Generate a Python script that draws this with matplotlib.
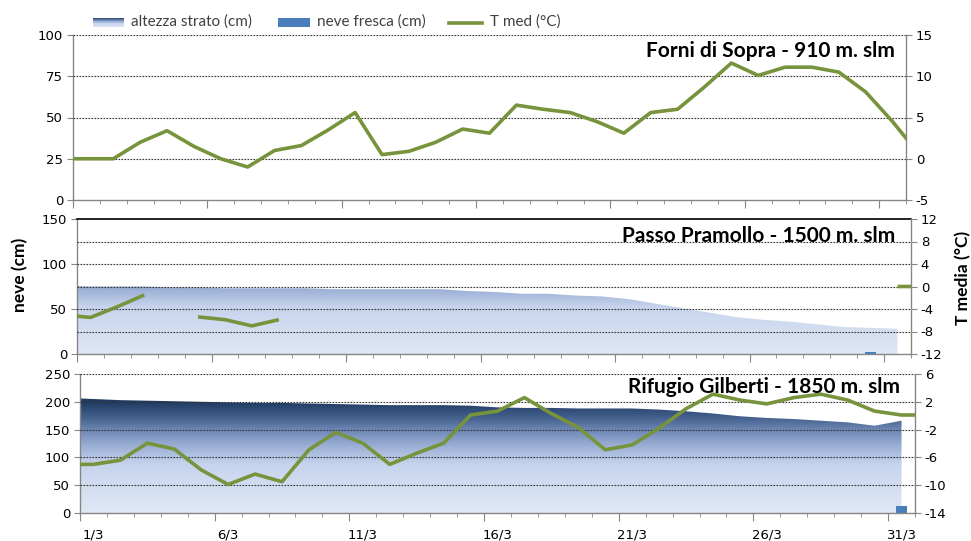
import numpy as np
import matplotlib.pyplot as plt
from matplotlib.colors import LinearSegmentedColormap
from matplotlib.patches import Rectangle
from matplotlib.lines import Line2D

plt.rcParams['axes.unicode_minus'] = False
plt.rcParams['font.family'] = 'DejaVu Sans'

# giorni: 28/2, 1/3 ... 31/3, 1/4  (0 = 1/3)
giorni = np.arange(-1, 32)
etichette_x = ['1/3', '6/3', '11/3', '16/3', '21/3', '26/3', '31/3']
pos_etichette = [0, 5, 10, 15, 20, 25, 30]
nan = np.nan

# Forni di Sopra - solo temperatura
forni_tmed = [0.0,
              0.0, 0.0, 2.0, 3.4, 1.5, 0.0, -1.0, 1.0, 1.6, 3.5,
              5.6, 0.5, 0.9, 2.0, 3.6, 3.1, 6.5, 6.0, 5.6, 4.5,
              3.1, 5.6, 6.0, 8.7, 11.6, 10.1, 11.1, 11.1, 10.5, 8.1,
              4.5,
              0.5]

# Passo Pramollo
pramollo_neve = [76,
                 75, 75, 75, 74, 74, 73, 73, 73, 73, 72,
                 72, 72, 72, 72, 70, 69, 67, 67, 65, 64,
                 61, 56, 51, 46, 41, 38, 36, 33, 30, 29,
                 28,
                 nan]
pramollo_fresca = [nan] + [nan] * 29 + [2, nan, nan]
pramollo_tmed = [-5.05,
                 -5.5, -3.6, -1.5, nan, -5.4, -5.9, -7.0, -5.9, nan, nan,
                 nan, nan, nan, nan, nan, nan, nan, nan, nan, nan,
                 nan, nan, nan, nan, nan, nan, nan, nan, nan, nan,
                 0.0,
                 0.0]

# Rifugio Gilberti
gilberti_neve = [207,
                 205, 203, 202, 201, 200, 199, 198, 198, 197, 196,
                 195, 194, 194, 194, 193, 190, 189, 189, 188, 188,
                 188, 186, 183, 179, 174, 171, 169, 166, 163, 157,
                 166,
                 nan]
gilberti_fresca = [nan] + [nan] * 30 + [12, nan]
gilberti_tmed = [-7.0,
                 -7.0, -6.4, -3.95, -4.8, -7.8, -9.9, -8.4, -9.5, -4.9, -2.4,
                 -3.95, -7.0, -5.4, -3.95, 0.1, 0.66, 2.6, 0.3, -1.7, -4.9,
                 -4.2, -1.8, 1.0, 3.1, 2.25, 1.7, 2.6, 3.1, 2.25, 0.66,
                 0.1,
                 0.1]

verde = '#77933c'
blu_fresca = '#4a7ebb'
grigio = '#868686'
cmap = LinearSegmentedColormap.from_list('neve', [
    (0.0, '#e0e8f5'), (0.35, '#c6d4ed'), (0.5, '#95aad1'), (0.6, '#6d86b4'),
    (0.7, '#3f5b88'), (0.8, '#213c63'), (1.0, '#182d4b')])
grad = np.linspace(0, 1, 256).reshape(-1, 1)

W, H = 971, 541
fig = plt.figure(figsize=(W / 100, H / 100), dpi=100)


def rect(l, r, t, b):
    return [l / W, (H - b) / H, (r - l) / W, (b - t) / H]


def pannello(pos, ymax, ystep, grid_step, tmin, tmax, tstep, titolo, tx, ty,
             neve=None, fresca=None, tmed=None, linea_top=False, etichette=False):
    ax = fig.add_axes(pos)
    if neve is not None:
        poly = ax.fill_between(giorni, 0, neve, facecolor='none', lw=0)
        im = ax.imshow(grad, extent=[-0.5, 30.5, 0, ymax], aspect='auto', cmap=cmap,
                       origin='lower', vmin=0, vmax=1, zorder=1)
        im.set_clip_path(poly.get_paths()[0], transform=ax.transData)
    if fresca is not None:
        ax.bar(giorni, fresca, width=0.42, color=blu_fresca, zorder=2)
    ax.set_xlim(-0.5, 30.5)
    ax.set_ylim(0, ymax)

    for v in np.arange(grid_step, ymax + 1, grid_step):
        if linea_top and v == ymax:
            continue
        ax.axhline(v, color='#333333', lw=0.8, ls=(0, (1.5, 1.2)), zorder=3)
    ax.set_yticks(np.arange(0, ymax + 1, ystep))
    ax.tick_params(axis='y', direction='out', length=4, color=grigio, labelsize=9.5, pad=3)

    ax.set_xticks(np.arange(-0.5, 31, 5))
    ax.set_xticks(np.arange(-0.5, 31, 1), minor=True)
    ax.tick_params(axis='x', which='major', direction='out', length=6, color=grigio, labelbottom=False)
    ax.tick_params(axis='x', which='minor', direction='out', length=3, color=grigio)

    for s in ['left', 'bottom']:
        ax.spines[s].set_color(grigio)
        ax.spines[s].set_linewidth(1.0)
    ax.spines['right'].set_visible(False)
    if linea_top:
        ax.spines['top'].set_color('black')
        ax.spines['top'].set_linewidth(1.2)
    else:
        ax.spines['top'].set_visible(False)

    at = ax.twinx()
    at.set_ylim(tmin, tmax)
    at.set_yticks(np.arange(tmin, tmax + 1, tstep))
    at.tick_params(axis='y', direction='out', length=4, color=grigio, labelsize=9.5, pad=3)
    if tmed is not None:
        at.plot(giorni, tmed, color=verde, lw=2.6, solid_capstyle='butt', solid_joinstyle='round', zorder=4)
    for s in ['left', 'top', 'bottom']:
        at.spines[s].set_visible(False)
    at.spines['right'].set_color(grigio)
    at.spines['right'].set_linewidth(1.0)
    at.set_xlim(-0.5, 30.5)

    at.text(tx, ty, titolo, transform=ax.transAxes, ha='right', va='top',
            fontsize=15, fontweight='bold', family='Lato', zorder=6)

    if etichette:
        sec = ax.secondary_xaxis('bottom')
        sec.set_xticks(pos_etichette, etichette_x)
        sec.tick_params(length=0, pad=11, labelsize=9.5)
        sec.spines['bottom'].set_visible(False)
    return ax, at


pannello(rect(73, 906, 35, 200), 100, 25, 25, -5, 15, 5,
         'Forni di Sopra - 910 m. slm', 0.987, 0.965, tmed=forni_tmed)
pannello(rect(77, 911, 219, 354), 150, 50, 25, -12, 12, 4,
         'Passo Pramollo - 1500 m. slm', 0.981, 0.95,
         neve=pramollo_neve, fresca=pramollo_fresca, tmed=pramollo_tmed, linea_top=True)
pannello(rect(80, 915, 374, 513), 250, 50, 50, -14, 6, 4,
         'Rifugio Gilberti - 1850 m. slm', 0.982, 0.975,
         neve=gilberti_neve, fresca=gilberti_fresca, tmed=gilberti_tmed, etichette=True)

# titoli degli assi
fig.text(20 / W, 1 - 275 / H, 'neve (cm)', rotation=90, ha='center', va='center',
         fontsize=12.5, fontweight='bold', family='Lato')
fig.text(963 / W, 1 - 278 / H, 'T media (°C)', rotation=90, ha='center', va='center',
         fontsize=12.5, fontweight='bold', family='Lato')

# legenda
lax = fig.add_axes(rect(93, 124, 18, 27))
lax.imshow(grad[::-1][60:240], aspect='auto', cmap=cmap, vmin=0, vmax=1)
lax.axis('off')
fig.patches.append(Rectangle((278 / W, 1 - 27 / H), 32 / W, 9 / H, transform=fig.transFigure,
                             facecolor=blu_fresca, edgecolor='none'))
fig.lines.append(Line2D([449 / W, 482 / W], [1 - 22.5 / H] * 2, transform=fig.transFigure,
                        color=verde, lw=2.6))
for x, t in [(131, 'altezza strato (cm)'), (317, 'neve fresca (cm)'), (490, 'T med (°C)')]:
    fig.text(x / W, 1 - 22 / H, t, ha='left', va='center', fontsize=11, family='Lato', color='#404040')

fig.savefig('out.png', dpi=100)
